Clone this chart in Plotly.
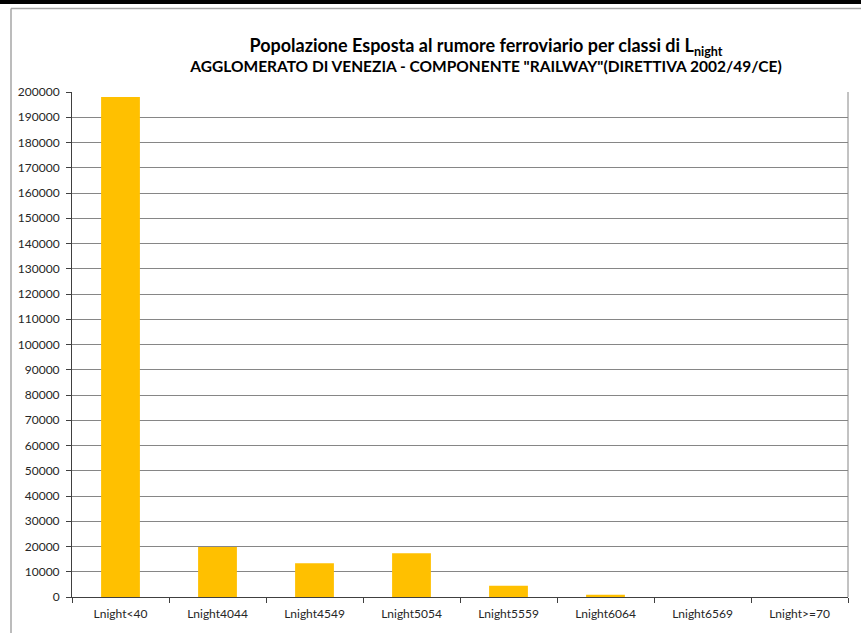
import plotly.graph_objects as go

categories = ["Lnight<40", "Lnight4044", "Lnight4549", "Lnight5054",
              "Lnight5559", "Lnight6064", "Lnight6569", "Lnight>=70"]
values = [198000, 19800, 13400, 17300, 4500, 900, 0, 0]
y_ticks = list(range(0, 200001, 10000))

W, H = 861, 633
L, R, T, B = 72, 13, 92, 36
pw, ph = W - L - R, H - T - B

def px_x(px):
    return (px - L) / pw

def px_y(py):
    return (H - B - py) / ph

font_family = "Lato, 'Open Sans', sans-serif"

fig = go.Figure()
fig.add_trace(go.Bar(
    x=categories, y=values,
    marker=dict(color="#FFC000", line=dict(width=0)),
))

fig.update_layout(
    width=W, height=H,
    margin=dict(l=L, r=R, t=T, b=B),
    paper_bgcolor="white", plot_bgcolor="white",
    bargap=0.6,
    showlegend=False,
    font=dict(family=font_family, size=12, color="#262626"),
    title=dict(
        text="<b><span style='font-size:18px'>Popolazione Esposta al rumore ferroviario per classi di L<sub>night</sub></span></b><br>"
             "<b>AGGLOMERATO DI VENEZIA - COMPONENTE \"RAILWAY\"(DIRETTIVA 2002/49/CE)</b>",
        x=px_x(486), xref="paper", xanchor="center",
        y=1 - 52 / H, yanchor="middle",
        font=dict(family=font_family, size=15.5, color="#000000"),
    ),
    xaxis=dict(
        type="category",
        showline=True, linecolor="#404040", linewidth=1,
        ticks="outside", tickson="boundaries", ticklen=5, tickcolor="#404040",
        showgrid=False,
        tickfont=dict(size=12),
        ticklabelstandoff=6,
        fixedrange=True,
    ),
    yaxis=dict(
        range=[0, 200000],
        tickvals=y_ticks, ticktext=[str(v) for v in y_ticks],
        showline=True, linecolor="#404040", linewidth=1,
        ticks="outside", ticklen=5, tickcolor="#404040",
        showgrid=True, gridcolor="#868686", gridwidth=1,
        zeroline=False,
        tickfont=dict(size=12),
        ticklabelstandoff=4,
    ),
    shapes=[
        dict(type="line", xref="paper", yref="paper", x0=1, x1=1, y0=0, y1=1,
             line=dict(color="#868686", width=1)),
        dict(type="line", xref="paper", yref="paper", x0=px_x(0), x1=px_x(W), y0=px_y(2), y1=px_y(2),
             line=dict(color="#000000", width=4)),
        dict(type="line", xref="paper", yref="paper", x0=px_x(11), x1=px_x(W), y0=px_y(8.5), y1=px_y(8.5),
             line=dict(color="#A6A6A6", width=1.5)),
        dict(type="line", xref="paper", yref="paper", x0=px_x(11), x1=px_x(11), y0=px_y(8.5), y1=px_y(H),
             line=dict(color="#A6A6A6", width=1.5)),
    ],
)

fig.write_html("out.html")
